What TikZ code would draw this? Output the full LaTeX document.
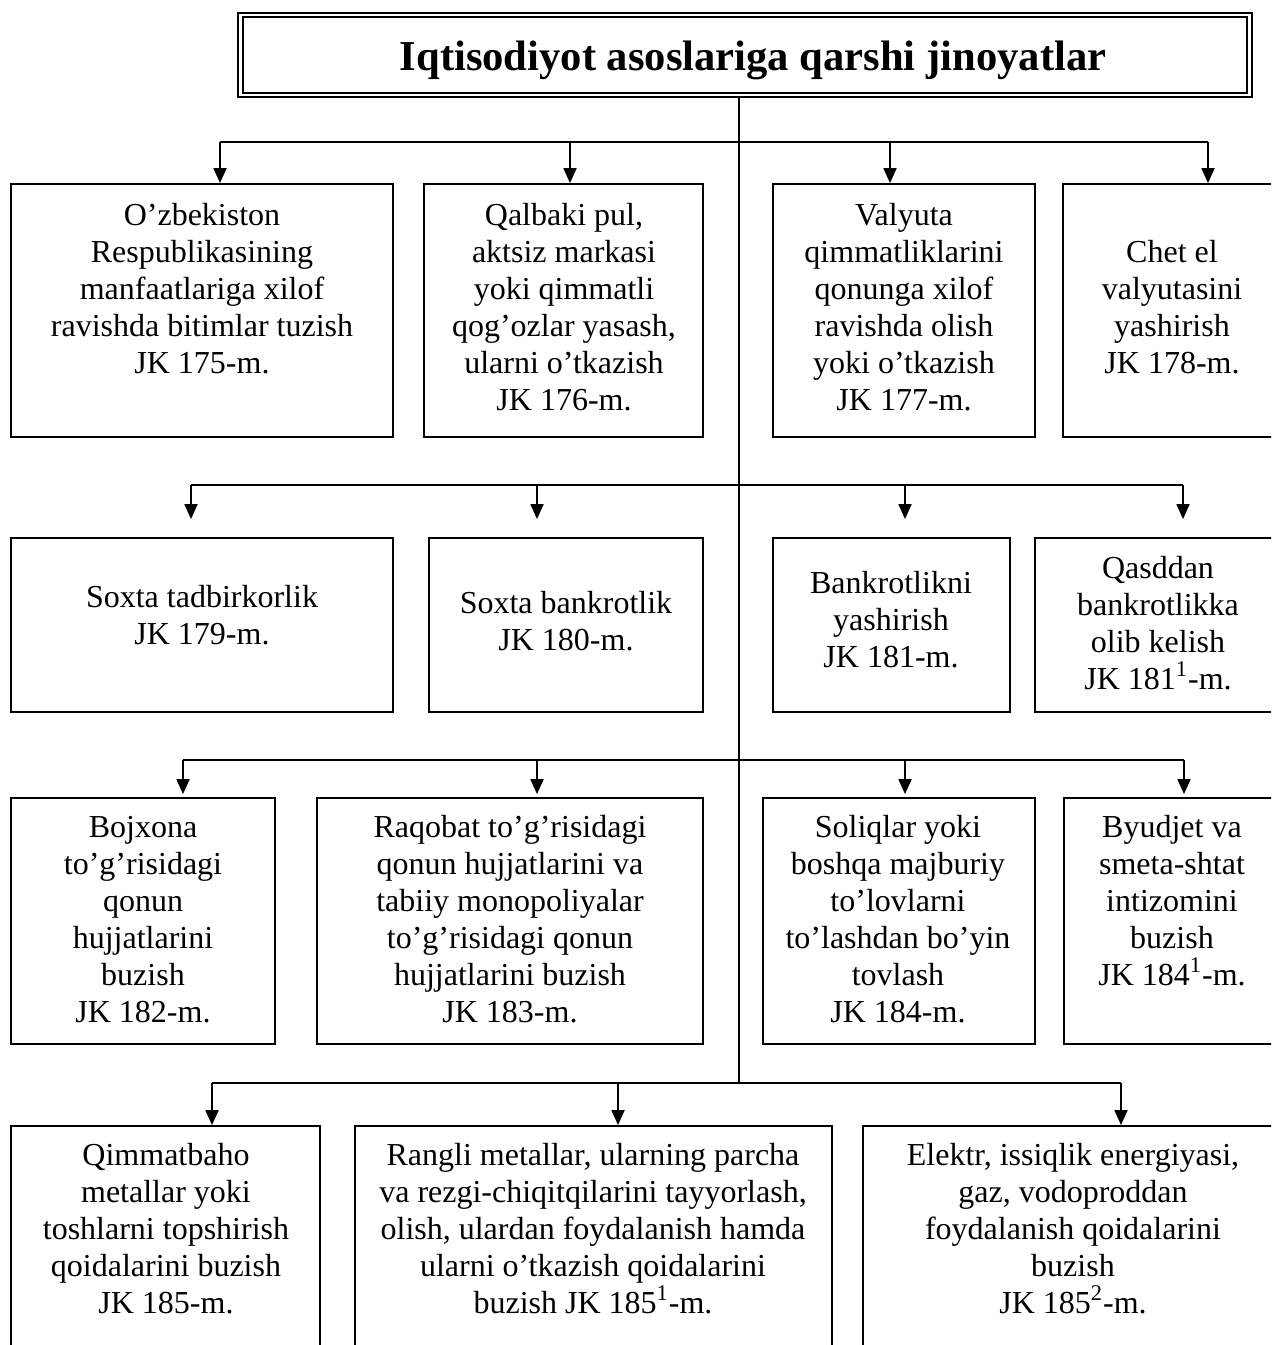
\documentclass[tikz,border=0pt]{standalone}
\usepackage{fontspec}
\setmainfont{Liberation Serif}
\usetikzlibrary{arrows.meta}
\begin{document}
\begin{tikzpicture}[x=0.5pt,y=-0.5pt,
  box/.style={draw, line width=0.9pt, rectangle, inner sep=0pt},
  txt/.style={align=center, font=\fontsize{16}{18.5}\selectfont, inner sep=0pt, anchor=base},
  link/.style={line width=0.9pt},
  arr/.style={line width=0.9pt, -{Triangle[width=6.5pt,length=7.5pt]}}]
\useasboundingbox (0,0) rectangle (1271,1345);
\clip (0,0) rectangle (1271,1345);

% title
\node[box, minimum width=507pt, minimum height=42pt] (title) at (745,55) {};
\draw[line width=0.9pt] ([shift={(3pt,-2.5pt)}]title.north west) rectangle ([shift={(-3pt,2.5pt)}]title.south east);
\node[anchor=base, inner sep=0pt, font=\fontsize{21.3}{25}\selectfont\bfseries] (ttext) at (753,70) {Iqtisodiyot asoslariga qarshi jinoyatlar};

% boxes row 1
\node[box, minimum width=191pt, minimum height=126.5pt] (b1) at (202,310.5) {};
\node[box, minimum width=139.5pt, minimum height=126.5pt] (b2) at (563.5,310.5) {};
\node[box, minimum width=131pt, minimum height=126.5pt] (b3) at (904,310.5) {};
\node[box, minimum width=111pt, minimum height=126.5pt] (b4) at (1174,310.5) {};
% row 2
\node[box, minimum width=191pt, minimum height=87pt] (b5) at (202,625) {};
\node[box, minimum width=137pt, minimum height=87pt] (b6) at (566,625) {};
\node[box, minimum width=118.5pt, minimum height=87pt] (b7) at (891.5,625) {};
\node[box, minimum width=125pt, minimum height=87pt] (b8) at (1160,625) {};
% row 3
\node[box, minimum width=132pt, minimum height=123pt] (b9) at (143,921) {};
\node[box, minimum width=193pt, minimum height=123pt] (b10) at (510,921) {};
\node[box, minimum width=136pt, minimum height=123pt] (b11) at (899,921) {};
\node[box, minimum width=110.5pt, minimum height=123pt] (b12) at (1174.5,921) {};
% row 4
\node[box, minimum width=154.5pt, minimum height=117pt] (b13) at (165.5,1243) {};
\node[box, minimum width=238.5pt, minimum height=117pt] (b14) at (593.5,1243) {};
\node[box, minimum width=211pt, minimum height=117pt] (b15) at (1074,1243) {};

% texts (anchored at the baseline of the last line)
\node[txt] (t1) at (202,373) {O’zbekiston\\Respublikasining\\manfaatlariga xilof\\ravishda bitimlar tuzish\\JK 175-m.};
\node[txt] (t2) at (564,410) {Qalbaki pul,\\aktsiz markasi\\yoki qimmatli\\qog’ozlar yasash,\\ularni o’tkazish\\JK 176-m.};
\node[txt] (t3) at (904,410) {Valyuta\\qimmatliklarini\\qonunga xilof\\ravishda olish\\yoki o’tkazish\\JK 177-m.};
\node[txt] (t4) at (1172,373) {Chet el\\valyutasini\\yashirish\\JK 178-m.};
\node[txt] (t5) at (202,644) {Soxta tadbirkorlik\\JK 179-m.};
\node[txt] (t6) at (566,650) {Soxta bankrotlik\\JK 180-m.};
\node[txt] (t7) at (891,667) {Bankrotlikni\\yashirish\\JK 181-m.};
\node[txt] (t8) at (1158,689) {Qasddan\\bankrotlikka\\olib kelish\\JK 181\textsuperscript{1}-m.};
\node[txt] (t9) at (143,1022) {Bojxona\\to’g’risidagi\\qonun\\hujjatlarini\\buzish\\JK 182-m.};
\node[txt] (t10) at (510,1022) {Raqobat to’g’risidagi\\qonun hujjatlarini va\\tabiiy monopoliyalar\\to’g’risidagi qonun\\hujjatlarini buzish\\JK 183-m.};
\node[txt] (t11) at (898,1022) {Soliqlar yoki\\boshqa majburiy\\to’lovlarni\\to’lashdan bo’yin\\tovlash\\JK 184-m.};
\node[txt] (t12) at (1172,985) {Byudjet va\\smeta-shtat\\intizomini\\buzish\\JK 184\textsuperscript{1}-m.};
\node[txt] (t13) at (166,1313) {Qimmatbaho\\metallar yoki\\toshlarni topshirish\\qoidalarini buzish\\JK 185-m.};
\node[txt] (t14) at (593,1313) {Rangli metallar, ularning parcha\\va rezgi-chiqitqilarini tayyorlash,\\olish, ulardan foydalanish hamda\\ularni o’tkazish qoidalarini\\buzish JK 185\textsuperscript{1}-m.};
\node[txt] (t15) at (1073,1313) {Elektr, issiqlik energiyasi,\\gaz, vodoproddan\\foydalanish qoidalarini\\buzish\\JK 185\textsuperscript{2}-m.};

% connectors
\coordinate (trunk) at (739,1083);
\draw[link] (title.south -| trunk) -- (trunk);

\coordinate (r1a) at (220,142); \coordinate (r1b) at (570,142);
\coordinate (r1c) at (890,142); \coordinate (r1d) at (1208,142);
\draw[link] (r1a) -- (r1d);
\draw[arr] (r1a) -- (r1a |- b1.north);
\draw[arr] (r1b) -- (r1b |- b2.north);
\draw[arr] (r1c) -- (r1c |- b3.north);
\draw[arr] (r1d) -- (r1d |- b4.north);

\coordinate (r2a) at (191,485); \coordinate (r2b) at (537,485);
\coordinate (r2c) at (905,485); \coordinate (r2d) at (1183,485);
\draw[link] (r2a) -- (r2d);
\draw[arr, shorten >=9pt] (r2a) -- (r2a |- b5.north);
\draw[arr, shorten >=9pt] (r2b) -- (r2b |- b6.north);
\draw[arr, shorten >=9pt] (r2c) -- (r2c |- b7.north);
\draw[arr, shorten >=9pt] (r2d) -- (r2d |- b8.north);

\coordinate (r3a) at (183,760); \coordinate (r3b) at (537,760);
\coordinate (r3c) at (905,760); \coordinate (r3d) at (1184,760);
\draw[link] (r3a) -- (r3d);
\draw[arr, shorten >=1.5pt] (r3a) -- (r3a |- b9.north);
\draw[arr, shorten >=1.5pt] (r3b) -- (r3b |- b10.north);
\draw[arr, shorten >=1.5pt] (r3c) -- (r3c |- b11.north);
\draw[arr, shorten >=1.5pt] (r3d) -- (r3d |- b12.north);

\coordinate (r4a) at (212,1083); \coordinate (r4b) at (618,1083);
\coordinate (r4c) at (1121,1083);
\draw[link] (r4a) -- (r4c);
\draw[arr] (r4a) -- (r4a |- b13.north);
\draw[arr] (r4b) -- (r4b |- b14.north);
\draw[arr] (r4c) -- (r4c |- b15.north);
\end{tikzpicture}
\end{document}
